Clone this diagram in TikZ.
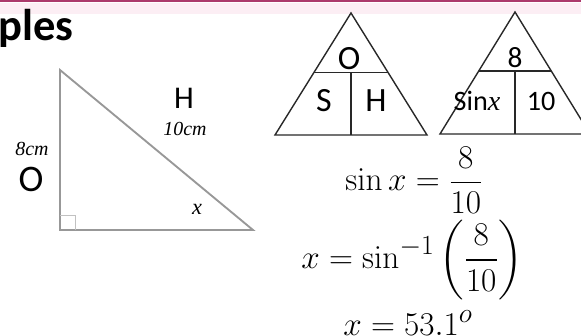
\documentclass[tikz,border=0pt]{standalone}
\usepackage{amsmath}
\usepackage[no-math]{fontspec}
\setmainfont{Carlito}
\newfontfamily\lblserif{Liberation Serif}
\usetikzlibrary{positioning,calc}
\definecolor{rimpink}{RGB}{172,58,108}
\definecolor{bandpink}{RGB}{252,238,244}
\definecolor{edgegray}{RGB}{152,152,152}
\definecolor{inkgray}{RGB}{40,40,40}

\begin{document}
\begin{tikzpicture}[x=0.03cm,y=-0.03cm,
 rt/.style={draw=edgegray,line width=1.6pt,line join=miter},
 tri/.style={draw=inkgray,line width=1.2pt},
 big/.style={inner sep=0pt,font=\fontsize{27}{28}\selectfont},
 cell/.style={inner sep=0pt,font=\fontsize{29}{30}\selectfont},
 unit/.style={inner sep=0pt,font=\lblserif\itshape\fontsize{17}{18}\selectfont},
 eq/.style={inner sep=0pt,scale=1.14,font=\fontsize{24.88}{30}\selectfont}]
\useasboundingbox (0,0) rectangle (581,336);
% header strip
\fill[bandpink] (0,3) rectangle (581,14);
\draw[rimpink,line width=1.8pt] (0,1) -- (581,1);
\node[anchor=base west,inner sep=0pt,font=\fontsize{38}{40}\selectfont\bfseries] (ttl) at (-2,40) {ples};
% right angled triangle
\coordinate (rtop) at (60,70);
\coordinate (rbl) at (60,230);
\coordinate (rbr) at (253,230);
\draw[rt] (rtop) -- (rbl) -- (rbr) -- cycle;
\draw[draw=edgegray!60,line width=.8pt] ($(rbl)+(0,-15)$) -| ($(rbl)+(15,0)$);
\node[big] (hyp) at (184,98) {H};
\node[unit] (hyplen) at (185,129) {10cm};
\node[unit] (opplen) at (32,149) {8cm};
\node[big,font=\fontsize{32}{34}\selectfont] (opp) at (31,179) {O};
\node[inner sep=0pt,font=\lblserif\itshape\fontsize{19}{20}\selectfont] (ang) at (197,209) {x};
% SOH triangle
\coordinate (a1) at (351,13);
\coordinate (l1) at (275,135);
\coordinate (r1) at (427,135);
\draw[tri] (a1) -- (l1) -- (r1) -- cycle;
\draw[tri] ($(a1)!.49!(l1)$) -- ($(a1)!.49!(r1)$);
\draw[tri] (351,73) -- (351,135);
\node[cell] (o1) at (349,59) {O};
\node[cell] (s1) at (324,101) {S};
\node[cell] (h1) at (376,101) {H};
% triangle with values
\coordinate (a2) at (515,12);
\coordinate (l2) at (440,134);
\coordinate (r2) at (590,134);
\draw[tri] (a2) -- (l2) -- (r2) -- cycle;
\draw[tri] ($(a2)!.484!(l2)$) -- ($(a2)!.484!(r2)$);
\draw[tri] (515,71) -- (515,134);
\node[cell,font=\fontsize{25}{26}\selectfont] (o2) at (515,58) {8};
\node[cell,font=\fontsize{24}{26}\selectfont] (s2) at (477,101) {Sin{\lblserif\itshape x}};
\node[cell,font=\fontsize{24}{26}\selectfont] (h2) at (541,101) {10};
% working
\node[eq] (eq1) at (414,180) {$\displaystyle \sin x=\frac{8}{10}$};
\node[eq] (eq2) at (412,260) {$\displaystyle x=\sin^{-1}\left(\frac{8}{10}\right)$};
\node[eq,anchor=base] (eq3) at (408,335) {$x=53.1^{o}$};
\end{tikzpicture}
\end{document}
